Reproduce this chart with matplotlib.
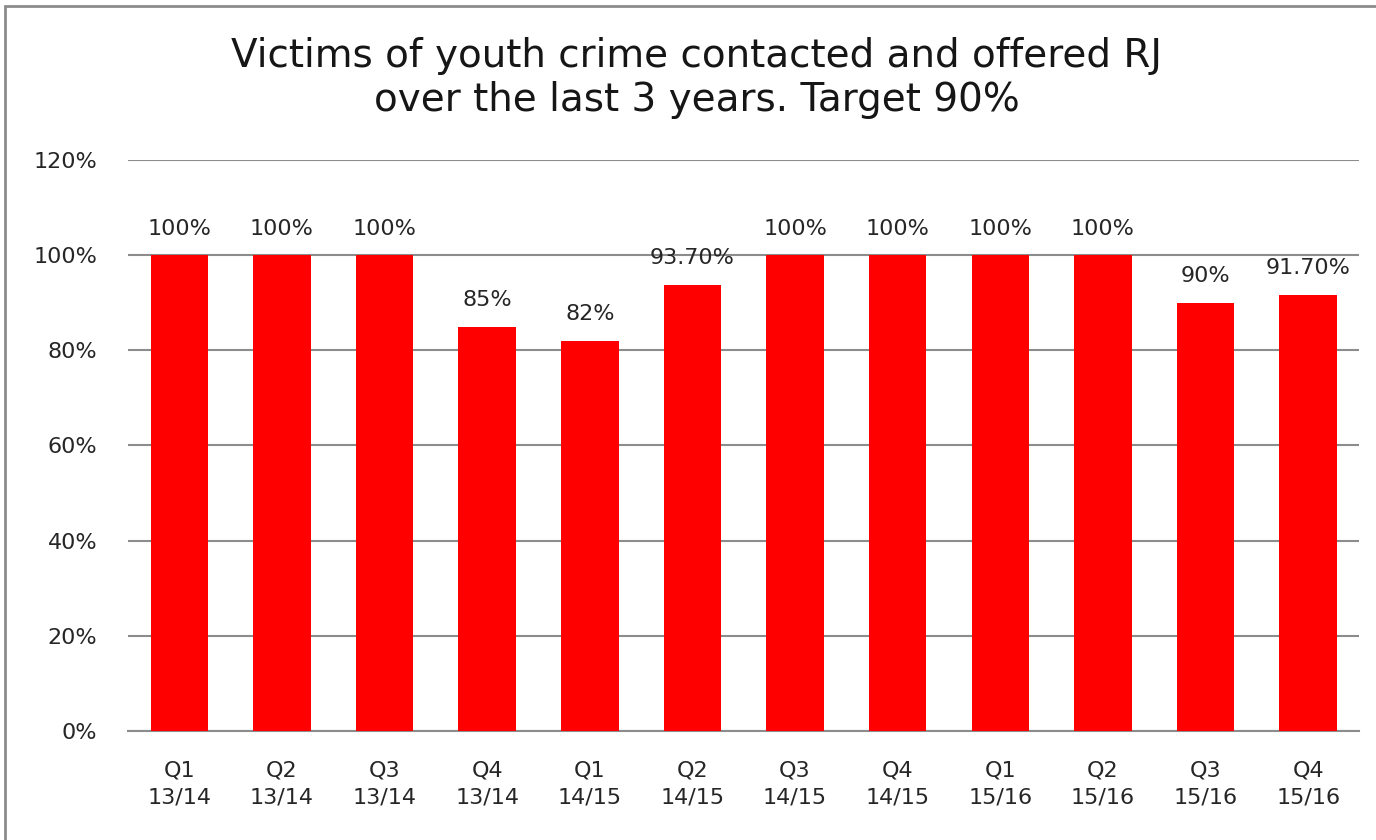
import matplotlib.pyplot as plt
from matplotlib.patches import Rectangle

quarters = ['Q1', 'Q2', 'Q3', 'Q4'] * 3
years = ['13/14'] * 4 + ['14/15'] * 4 + ['15/16'] * 4
values = [100, 100, 100, 85, 82, 93.7, 100, 100, 100, 100, 90, 91.7]
value_labels = ['100%', '100%', '100%', '85%', '82%', '93.70%',
                '100%', '100%', '100%', '100%', '90%', '91.70%']

plt.rcParams['font.family'] = 'DejaVu Sans'

fig = plt.figure(figsize=(13.76, 8.4), dpi=100)
ax = fig.add_axes([0.093, 0.1298, 0.895, 0.6797])

x = range(len(values))
ax.bar(x, values, width=0.56, color='#ff0000', zorder=3)

for i, (v, lab) in enumerate(zip(values, value_labels)):
    ax.annotate(lab, (i, v), xytext=(0, 12), textcoords='offset points',
                ha='center', va='bottom', fontsize=16, color='#262626')

ax.set_ylim(0, 120)
ax.set_xlim(-0.5, 11.5)
ax.set_yticks(range(0, 121, 20))
ax.set_yticklabels([f'{t}%' for t in range(0, 121, 20)])
ax.set_xticks(list(x))
ax.set_xticklabels([f'{q}\n{y}' for q, y in zip(quarters, years)], linespacing=1.45)
ax.tick_params(axis='both', length=0, labelsize=16, colors='#262626')
ax.tick_params(axis='x', pad=21)
ax.tick_params(axis='y', pad=22)

ax.grid(axis='y', color='#8c8c8c', linewidth=1.5, zorder=0)
for s in ['top', 'right', 'left']:
    ax.spines[s].set_visible(False)
ax.spines['bottom'].set_color('#8c8c8c')
ax.spines['bottom'].set_linewidth(1.5)

fig.text(0.5065, 0.9075, 'Victims of youth crime contacted and offered RJ\nover the last 3 years. Target 90%',
         ha='center', va='center', fontsize=28, color='#161616', linespacing=1.2)

# outer chart border
fig.patches.append(Rectangle((5 / 1376, -0.1), 1.2, 1.1 - 6 / 840, transform=fig.transFigure,
                             fill=False, edgecolor='#8c8c8c', linewidth=2))

fig.savefig('out.png', dpi=100)
